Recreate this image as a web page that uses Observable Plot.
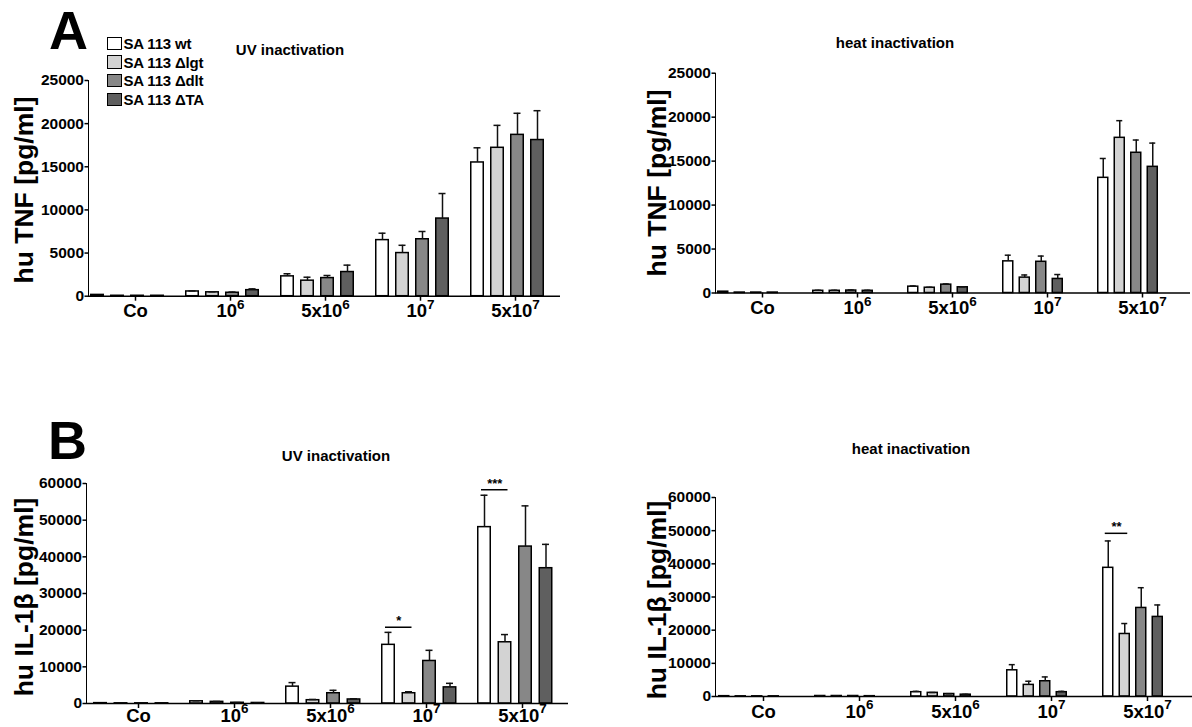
<!DOCTYPE html>
<html><head><meta charset="utf-8">
<script src="https://cdn.jsdelivr.net/npm/d3@7"></script>
<script src="https://cdn.jsdelivr.net/npm/@observablehq/plot@0.6"></script>
<style>
body{margin:0;background:#fff;}
#wrap{position:relative;width:1192px;height:727px;overflow:hidden;background:#fff;font-family:"Liberation Sans",Arial,sans-serif;font-weight:bold;color:#000;}
.panel{position:absolute;}
.ylab{position:absolute;transform:translate(-50%,-50%) rotate(-90deg);white-space:nowrap;font-size:26.5px;}
.title{position:absolute;transform:translate(-50%,-50%);white-space:nowrap;font-size:15px;}
.letter{position:absolute;font-size:54px;line-height:1;}
.legend{position:absolute;left:107px;top:34px;font-size:15px;letter-spacing:-0.2px;}
.legend .it{display:flex;align-items:center;height:18.7px;}
.legend .sw{width:12.5px;height:11.5px;border:1.5px solid #000;margin-right:2px;}
svg g[aria-label*="x-axis"] text{font-size:18.5px;}
svg g[aria-label*="y-axis"] text{font-size:15.5px;}
</style>
</head><body>
<div id="wrap">
  <div class="letter" style="left:49px;top:3px;">A</div>
  <div class="letter" style="left:48px;top:413px;">B</div>
  <div class="legend" id="legend"></div>
  <div class="title" style="left:290px;top:49px;">UV inactivation</div>
  <div class="title" style="left:895px;top:42px;">heat inactivation</div>
  <div class="title" style="left:336px;top:455px;">UV inactivation</div>
  <div class="title" style="left:911px;top:448px;">heat inactivation</div>
  <div class="ylab" style="left:24px;top:190px;">hu TNF [pg/ml]</div>
  <div class="ylab" style="left:657px;top:183px;">hu TNF [pg/ml]</div>
  <div class="ylab" style="left:24px;top:597px;">hu IL-1β [pg/ml]</div>
  <div class="ylab" style="left:657px;top:600px;">hu IL-1β [pg/ml]</div>
  <div class="panel" id="pA1" style="left:0px;top:60px;"></div>
  <div class="panel" id="pA2" style="left:600px;top:50px;"></div>
  <div class="panel" id="pB1" style="left:0px;top:460px;"></div>
  <div class="panel" id="pB2" style="left:600px;top:470px;"></div>
</div>
<script>
// ---- data ----
const categories = ["Co", "10^6", "5x10^6", "10^7", "5x10^7"];
const seriesNames = ["SA 113 wt", "SA 113 Δlgt", "SA 113 Δdlt", "SA 113 ΔTA"];
const seriesColors = ["#ffffff", "#d3d3d3", "#878787", "#5f5f5f"];

const tnfTicks = [0, 5000, 10000, 15000, 20000, 25000];
const il1bTicks = [0, 10000, 20000, 30000, 40000, 50000, 60000];

// TNF, UV inactivation (rows: series; columns: categories)
const tnfUvMean = [
  [150, 550, 2300, 6500, 15500],
  [50, 450, 1800, 5000, 17200],
  [50, 400, 2100, 6600, 18700],
  [50, 700, 2800, 9000, 18100]
];
const tnfUvErr = [
  [0, 60, 300, 800, 1700],
  [0, 60, 400, 900, 2600],
  [0, 80, 300, 900, 2500],
  [0, 150, 800, 2900, 3400]
];
// TNF, heat inactivation
const tnfHeatMean = [
  [150, 250, 720, 3600, 13100],
  [50, 250, 600, 1750, 17650],
  [50, 280, 950, 3550, 15950],
  [50, 250, 650, 1600, 14350]
];
const tnfHeatErr = [
  [0, 60, 80, 700, 2200],
  [0, 60, 50, 300, 1950],
  [0, 60, 80, 650, 1450],
  [0, 60, 60, 500, 2700]
];
// IL-1beta, UV inactivation
const il1bUvMean = [
  [100, 600, 4600, 16000, 48100],
  [50, 450, 900, 2800, 16700],
  [50, 200, 2800, 11600, 42800],
  [50, 150, 1100, 4400, 36900]
];
const il1bUvErr = [
  [0, 150, 1100, 3400, 8700],
  [0, 100, 200, 400, 2100],
  [0, 50, 800, 2900, 11100],
  [0, 50, 200, 1100, 6500]
];
// IL-1beta, heat inactivation
const il1bHeatMean = [
  [100, 150, 1300, 7900, 38800],
  [50, 150, 1100, 3500, 18850],
  [50, 150, 750, 4600, 26700],
  [50, 100, 550, 1300, 24000]
];
const il1bHeatErr = [
  [0, 50, 250, 1700, 8100],
  [0, 50, 100, 1100, 3150],
  [0, 50, 100, 1300, 6100],
  [0, 50, 100, 250, 3600]
];
// significance brackets (wt vs Δlgt)
const il1bUvSig = [
  {cat: "10^7", level: 20800, label: "*"},
  {cat: "5x10^7", level: 58300, label: "***"}
];
const il1bHeatSig = [
  {cat: "5x10^7", level: 49200, label: "**"}
];

// ---- legend ----
const leg = document.getElementById("legend");
seriesNames.forEach((n, i) => {
  const it = document.createElement("div"); it.className = "it";
  const sw = document.createElement("div"); sw.className = "sw"; sw.style.background = seriesColors[i];
  const tx = document.createElement("span"); tx.textContent = n;
  it.appendChild(sw); it.appendChild(tx); leg.appendChild(it);
});

// ---- panel builder ----
function panel(el, cfg) {
  const {W, H, ml, mr, mt, mb, yMax, yTicks, mean, err, P, F, s, w, cap, off, sig, pad = 3} = cfg;
  const axisLen = W - ml - mr;
  const pIn = 1 - F / P;
  const q = Math.max(0, (axisLen / P - categories.length + pIn) / 2);
  const extra = axisLen - (categories.length - 1) * P - F;
  const align = extra > 0 ? Math.min(1, Math.max(0, off / extra)) : 0;
  const sw = 1.5;
  const marks = [];
  seriesNames.forEach((name, i) => {
    const rows = categories.map((c, j) => ({cat: c, value: mean[i][j], err: err[i][j], top: mean[i][j] + err[i][j]}));
    const left = i * s;
    marks.push(Plot.barY(rows, {x: "cat", y: "value", fill: seriesColors[i], stroke: "#000", strokeWidth: sw,
      insetLeft: left + sw / 2, insetRight: F - left - w + sw / 2}));
    const withErr = rows.filter(r => r.err > 0);
    marks.push(Plot.ruleX(withErr, {x: "cat", y1: "value", y2: "top", dx: left + w / 2 - F / 2, stroke: "#111", strokeWidth: 1.5}));
    marks.push(Plot.tickY(withErr, {x: "cat", y: "top", insetLeft: left + w / 2 - cap / 2, insetRight: F - left - w / 2 - cap / 2, stroke: "#111", strokeWidth: 1.5}));
  });
  if (sig) {
    const a = w / 2, b = s + w / 2;
    marks.push(Plot.tickY(sig, {x: "cat", y: "level", insetLeft: a - 3, insetRight: F - b - 3, stroke: "#000", strokeWidth: 1.5}));
    marks.push(Plot.text(sig, {x: "cat", y: "level", text: "label", dx: (a + b) / 2 - F / 2, dy: -6, fontSize: 13, fontWeight: "bold", fill: "#000"}));
  }
  marks.push(Plot.ruleY([0], {stroke: "#000", strokeWidth: 1.5}));
  const svg = Plot.plot({
    width: W, height: H, marginLeft: ml, marginRight: mr, marginTop: mt, marginBottom: mb,
    style: {fontFamily: '"Liberation Sans", Arial, sans-serif', fontWeight: "bold", color: "#000", background: "transparent", overflow: "visible"},
    x: {domain: categories, paddingInner: pIn, paddingOuter: q, align, round: false, tickSize: 5, tickPadding: pad, label: null},
    y: {domain: [0, yMax], ticks: yTicks, tickFormat: d3.format("d"), tickSize: 3.5, tickPadding: 1, line: true, label: null},
    marks
  });
  // superscripts in category labels
  d3.select(svg).selectAll("text").each(function () {
    const t = this.textContent;
    if (t.includes("^")) {
      const [base, sup] = t.split("^");
      const sel = d3.select(this);
      sel.text(null);
      sel.append("tspan").text(base);
      sel.append("tspan").attr("dy", "-0.62em").attr("font-size", "13.5px").text(sup);
    }
  });
  d3.select(svg).selectAll('g[aria-label*="y-axis"] path, g[aria-label*="y-axis"] line').attr("stroke-width", 1.5);
  d3.select(svg).selectAll('g[aria-label*="x-axis"] path, g[aria-label*="x-axis"] line').attr("stroke-width", 1.5);
  document.getElementById(el).appendChild(svg);
}

panel("pA1", {W: 590, H: 280, ml: 88, mr: 30, mt: 20, mb: 44.3, yMax: 25000, yTicks: tnfTicks,
  mean: tnfUvMean, err: tnfUvErr, P: 95, F: 90, s: 20, w: 14, cap: 7, off: 2});
panel("pA2", {W: 592, H: 280, ml: 115, mr: 2, mt: 22.7, mb: 37.5, yMax: 25000, yTicks: tnfTicks,
  mean: tnfHeatMean, err: tnfHeatErr, P: 95, F: 90, s: 16.5, w: 11.5, cap: 6, off: 2});
panel("pB1", {W: 590, H: 267, ml: 86, mr: 22, mt: 23, mb: 24, yMax: 60000, yTicks: il1bTicks,
  mean: il1bUvMean, err: il1bUvErr, P: 96, F: 90, s: 20.5, w: 14, cap: 7, off: 7, sig: il1bUvSig, pad: 0});
panel("pB2", {W: 592, H: 257, ml: 115, mr: 0, mt: 27, mb: 31, yMax: 60000, yTicks: il1bTicks,
  mean: il1bHeatMean, err: il1bHeatErr, P: 96, F: 90, s: 16.5, w: 11.5, cap: 6, off: 3, sig: il1bHeatSig});
</script>
</body></html>
